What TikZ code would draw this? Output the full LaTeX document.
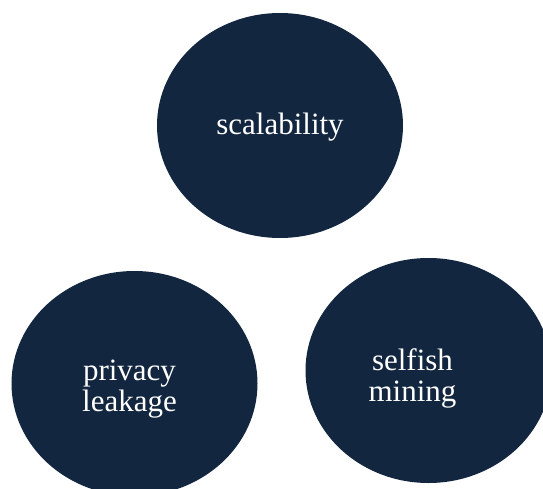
\documentclass[tikz,border=0pt]{standalone}
\usepackage{fontspec}
\setmainfont{Liberation Serif}
\usepackage{xcolor}
\usepackage{tikz}
\usetikzlibrary{shapes.geometric, calc}
\definecolor{navy}{RGB}{18,38,64}

\begin{document}
\begin{tikzpicture}[x=1pt, y=-1pt,
    issue/.style={ellipse, fill=navy, draw=none, minimum width=246pt, minimum height=225pt, inner sep=0pt},
    lbl/.style={text=white, align=center, font=\fontsize{31}{31}\selectfont}]
            \useasboundingbox (0,0) rectangle (543,489);
            \clip (0,0) rectangle (543,489);
            \node[issue] at (280,125.5) (scal) {};
            \node[issue] at (134.5,383.5) (priv) {};
            \node[issue] at (428.5,370.5) (self) {};
            \node[lbl] at ($(scal.center)+(0,2)$) (scaltext) {scalability};
            \node[lbl] at ($(priv.center)+(-5,6)$) (privtext) {privacy\\leakage};
            \node[lbl] at ($(self.center)+(-16,8)$) (selftext) {selfish\\mining};
        \end{tikzpicture}
\end{document}
